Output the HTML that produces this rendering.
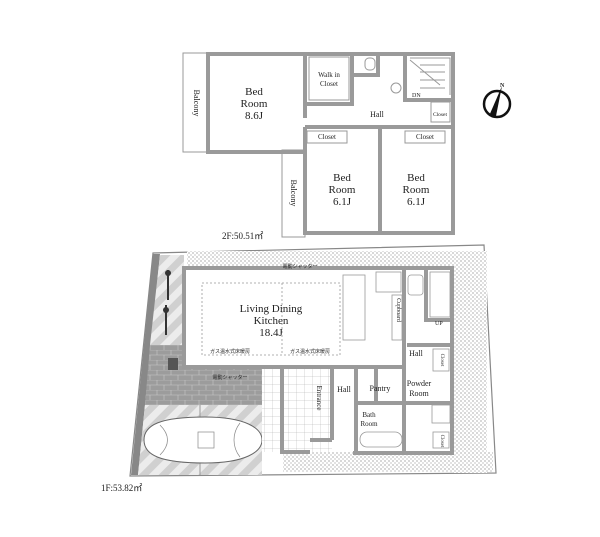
<!DOCTYPE html>
<html><head><meta charset="utf-8"><style>
html,body{margin:0;padding:0;background:#fff}
svg{display:block}
text{font-family:"Liberation Serif",serif;fill:#222}
.j{font-family:"Liberation Sans","Noto Sans CJK JP",sans-serif}
</style></head><body>
<svg width="600" height="537" viewBox="0 0 600 537" xmlns="http://www.w3.org/2000/svg">
<defs>
<pattern id="dots" width="4" height="4" patternUnits="userSpaceOnUse"><rect width="4" height="4" fill="#fff"/><circle cx="1" cy="1" r="0.6" fill="#777"/><circle cx="3" cy="3" r="0.6" fill="#999"/></pattern>
<pattern id="stripe" width="14" height="14" patternUnits="userSpaceOnUse" patternTransform="rotate(45)"><rect width="14" height="14" fill="#ececec"/><rect width="7" height="14" fill="#d0d0d0"/></pattern>
<pattern id="brick" width="14" height="10" patternUnits="userSpaceOnUse"><rect width="14" height="10" fill="#9c9c9c"/><path d="M0 0H14M0 5H14M3 0V5M10 5V10" stroke="#c8c8c8" stroke-width="0.6"/></pattern>
<pattern id="tile" width="8" height="8" patternUnits="userSpaceOnUse"><rect width="8" height="8" fill="#fff"/><path d="M0 0H8M0 0V8" stroke="#aaa" stroke-width="0.5"/></pattern>
</defs>

<!-- ===== 2F ===== -->
<rect x="183" y="53" width="24" height="99" fill="#fff" stroke="#999" stroke-width="1"/>
<rect x="282" y="150" width="23" height="87" fill="#fff" stroke="#999" stroke-width="1"/>
<text x="194" y="103" font-size="8" transform="rotate(90 194 103)" text-anchor="middle">Balcony</text>
<text x="291" y="193" font-size="8" transform="rotate(90 291 193)" text-anchor="middle">Balcony</text>
<g fill="none" stroke="#9a9a9a" stroke-width="4">
<path d="M208 54H453V233H305V152H208Z"/>
<path d="M305 54V104H352V54"/>
<path d="M352 75H378V54"/>
<path d="M405 54V100H453"/>
<path d="M305 127H453"/>
<path d="M380 127V233"/>
<path d="M305 127V152"/>
<path d="M305 104V118"/>
</g>
<g fill="none" stroke="#999" stroke-width="1">
<rect x="307" y="131" width="40" height="12"/>
<rect x="405" y="131" width="40" height="12"/>
<rect x="309" y="57" width="40" height="43"/>
<rect x="431" y="102" width="19" height="20"/>
<path d="M410 58H450V95M410 60L440 85M420 65H445M420 72H445M420 80H445M420 88H445"/>
<circle cx="396" cy="88" r="5"/>
<rect x="365" y="58" width="10" height="12" rx="4"/>
</g>
<text x="254" y="95" font-size="11" text-anchor="middle">Bed</text>
<text x="254" y="107" font-size="11" text-anchor="middle">Room</text>
<text x="254" y="119" font-size="11" text-anchor="middle">8.6J</text>
<text x="329" y="77" font-size="7" text-anchor="middle">Walk in</text>
<text x="329" y="86" font-size="7" text-anchor="middle">Closet</text>
<text x="377" y="117" font-size="8" text-anchor="middle">Hall</text>
<text x="412" y="97" font-size="6">DN</text>
<text x="440" y="116" font-size="5.5" text-anchor="middle">Closet</text>
<text x="327" y="139" font-size="7" text-anchor="middle">Closet</text>
<text x="425" y="139" font-size="7" text-anchor="middle">Closet</text>
<text x="342" y="181" font-size="11" text-anchor="middle">Bed</text>
<text x="342" y="193" font-size="11" text-anchor="middle">Room</text>
<text x="342" y="205" font-size="11" text-anchor="middle">6.1J</text>
<text x="416" y="181" font-size="11" text-anchor="middle">Bed</text>
<text x="416" y="193" font-size="11" text-anchor="middle">Room</text>
<text x="416" y="205" font-size="11" text-anchor="middle">6.1J</text>
<text x="222" y="239" font-size="9">2F:50.51㎡</text>

<circle cx="497" cy="104" r="13" fill="none" stroke="#111" stroke-width="2.5"/>
<path d="M489 116L502 86L496 116Z" fill="#111"/>
<text x="500" y="87" font-size="6" font-weight="bold">N</text>

<!-- ===== 1F site ===== -->
<polygon points="153,253 484,245 496,473 130,476" fill="#fff" stroke="#888" stroke-width="1.2"/>
<rect x="187" y="251" width="296" height="19" fill="url(#dots)"/>
<rect x="453" y="251" width="34" height="222" fill="url(#dots)"/>
<rect x="283" y="452" width="210" height="20" fill="url(#dots)"/>
<polygon points="153,254 160,254 138,475 131,475" fill="#888"/>
<polygon points="160,255 184,255 184,345 150,345" fill="url(#stripe)"/>
<polygon points="150,345 184,345 184,367 262,367 262,405 145,405" fill="url(#brick)"/>
<rect x="168" y="358" width="10" height="12" fill="#555"/>
<polygon points="145,405 262,405 262,475 138,475" fill="url(#stripe)"/>
<line x1="200" y1="405" x2="200" y2="475" stroke="#999" stroke-width="1"/>
<path d="M144 440C144 425 160 417 205 417C245 417 262 428 262 440C262 452 245 463 205 463C160 463 144 455 144 440Z" fill="#fff" stroke="#666" stroke-width="1"/>
<path d="M160 425C170 435 170 445 160 455M240 423C232 433 232 447 240 457" fill="none" stroke="#888" stroke-width="0.7"/>
<rect x="198" y="432" width="16" height="16" fill="none" stroke="#888" stroke-width="0.7"/>
<g stroke="#333" stroke-width="2" fill="none"><path d="M168 270V300M166 305V335"/></g>
<circle cx="168" cy="273" r="3" fill="#333"/><circle cx="166" cy="310" r="3" fill="#333"/>

<rect x="262" y="367" width="46" height="85" fill="url(#tile)"/>
<rect x="308" y="367" width="24" height="85" fill="url(#tile)"/>

<g fill="none" stroke="#9a9a9a" stroke-width="4">
<path d="M184 268H404V367H184Z"/>
<path d="M404 268H452V453H353"/>
<path d="M404 268V345"/>
<path d="M426 268V320H452"/>
<path d="M407 345H452"/>
<path d="M404 367V453"/>
<path d="M356 367V453"/>
<path d="M332 367V440"/>
<path d="M282 367V452H310"/>
<path d="M356 403H404"/>
<path d="M404 403H452"/>
<path d="M376 367V403"/>
<path d="M310 440H332"/>
</g>
<g fill="none" stroke="#999" stroke-width="0.8">
<rect x="343" y="275" width="22" height="65"/>
<rect x="376" y="272" width="25" height="20"/>
<rect x="392" y="295" width="10" height="45"/>
<rect x="408" y="275" width="15" height="20" rx="3"/>
<rect x="360" y="432" width="42" height="15" rx="7"/>
<rect x="430" y="272" width="20" height="45"/>
<rect x="432" y="405" width="18" height="18"/>
<rect x="433" y="432" width="16" height="16"/>
<rect x="433" y="349" width="16" height="22"/>
<path d="M202 283H340V355H202Z" stroke-dasharray="2,2"/>
<path d="M282 283V355" stroke-dasharray="2,2"/>
</g>
<text x="271" y="312" font-size="11" text-anchor="middle">Living Dining</text>
<text x="271" y="324" font-size="11" text-anchor="middle">Kitchen</text>
<text x="271" y="336" font-size="11" text-anchor="middle">18.4J</text>
<text x="230" y="353" font-size="5" class="j" text-anchor="middle">ガス温水式床暖房</text>
<text x="310" y="353" font-size="5" class="j" text-anchor="middle">ガス温水式床暖房</text>
<text x="300" y="268" font-size="5" class="j" text-anchor="middle">電動シャッター</text>
<text x="230" y="379" font-size="5" class="j" text-anchor="middle">電動シャッター</text>
<text x="397" y="310" font-size="6" transform="rotate(90 397 310)" text-anchor="middle">Cupboard</text>
<text x="435" y="325" font-size="6">UP</text>
<text x="416" y="356" font-size="8" text-anchor="middle">Hall</text>
<text x="441" y="360" font-size="5" transform="rotate(90 441 360)" text-anchor="middle">Closet</text>
<text x="419" y="386" font-size="8" text-anchor="middle">Powder</text>
<text x="419" y="396" font-size="8" text-anchor="middle">Room</text>
<text x="380" y="391" font-size="8" text-anchor="middle">Pantry</text>
<text x="344" y="392" font-size="8" text-anchor="middle">Hall</text>
<text x="317" y="398" font-size="7" transform="rotate(90 317 398)" text-anchor="middle">Entrance</text>
<text x="369" y="417" font-size="7" text-anchor="middle">Bath</text>
<text x="369" y="426" font-size="7" text-anchor="middle">Room</text>
<text x="441" y="441" font-size="5" transform="rotate(90 441 441)" text-anchor="middle">Closet</text>
<text x="101" y="491" font-size="9">1F:53.82㎡</text>
</svg>
</body></html>
